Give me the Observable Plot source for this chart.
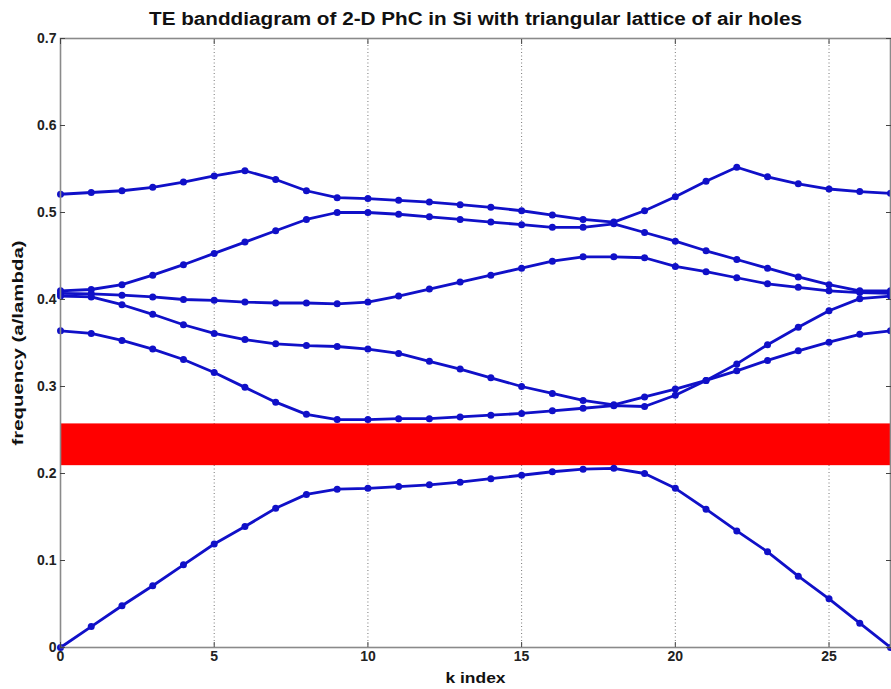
<!DOCTYPE html>
<html><head><meta charset="utf-8">
<script src="https://cdn.jsdelivr.net/npm/d3@7"></script>
<script src="https://cdn.jsdelivr.net/npm/@observablehq/plot@0.6"></script>
<style>body{margin:0;background:#fff;} svg{display:block}</style>
</head><body><div id="chart"></div>
<script>
const kIndex = [0,1,2,3,4,5,6,7,8,9,10,11,12,13,14,15,16,17,18,19,20,21,22,23,24,25,26,27];
const band1 = [0, 0.024, 0.048, 0.071, 0.095, 0.119, 0.139, 0.160, 0.176, 0.182, 0.183, 0.185, 0.187, 0.190, 0.194, 0.198, 0.202, 0.205, 0.206, 0.200, 0.183, 0.159, 0.134, 0.110, 0.082, 0.056, 0.028, 0];
const band2 = [0.364, 0.361, 0.353, 0.343, 0.331, 0.316, 0.299, 0.282, 0.268, 0.262, 0.262, 0.263, 0.263, 0.265, 0.267, 0.269, 0.272, 0.275, 0.278, 0.277, 0.290, 0.307, 0.318, 0.330, 0.341, 0.351, 0.360, 0.364];
const band3 = [0.404, 0.403, 0.394, 0.383, 0.371, 0.361, 0.354, 0.349, 0.347, 0.346, 0.343, 0.338, 0.329, 0.320, 0.310, 0.300, 0.292, 0.284, 0.279, 0.288, 0.297, 0.307, 0.326, 0.348, 0.368, 0.387, 0.401, 0.404];
const band4 = [0.407, 0.4065, 0.405, 0.403, 0.400, 0.399, 0.397, 0.396, 0.396, 0.395, 0.397, 0.404, 0.412, 0.420, 0.428, 0.436, 0.444, 0.449, 0.449, 0.448, 0.438, 0.432, 0.425, 0.418, 0.414, 0.410, 0.408, 0.407];
const band5 = [0.410, 0.4115, 0.417, 0.428, 0.440, 0.453, 0.466, 0.479, 0.492, 0.500, 0.500, 0.498, 0.495, 0.492, 0.489, 0.486, 0.483, 0.483, 0.487, 0.477, 0.467, 0.456, 0.446, 0.436, 0.426, 0.417, 0.410, 0.410];
const band6 = [0.521, 0.523, 0.525, 0.529, 0.535, 0.542, 0.548, 0.538, 0.525, 0.517, 0.516, 0.514, 0.512, 0.509, 0.506, 0.502, 0.497, 0.492, 0.489, 0.502, 0.518, 0.536, 0.552, 0.541, 0.533, 0.527, 0.524, 0.522];
const gapLow = 0.209;
const gapHigh = 0.257;
const xTicks = [0, 5, 10, 15, 20, 25];
const yTicks = [0, 0.1, 0.2, 0.3, 0.4, 0.5, 0.6, 0.7];
const titleText = "TE banddiagram of 2-D PhC in Si with triangular lattice of air holes";
const xLabel = "k index";
const yLabel = "frequency (a/lambda)";

const bands = [band1, band2, band3, band4, band5, band6];
const data = bands.flatMap((b, i) => b.map((f, j) => ({band: i + 1, k: kIndex[j], f})));
const gap = [{k1: kIndex[0], k2: kIndex[kIndex.length - 1], f1: gapLow, f2: gapHigh}];
const blue = "#1010c8";
const font = "'Liberation Sans', Arial, sans-serif";

const plot = Plot.plot({
  width: 891, height: 689,
  marginLeft: 60, marginRight: 1, marginTop: 38, marginBottom: 42,
  style: {fontFamily: font, fontSize: "14px", background: "#fff", color: "#222"},
  x: {domain: [0, 27]},
  y: {domain: [0, 0.7]},
  marks: [
    Plot.gridX(xTicks.filter(t => t > 0), {stroke: "#777", strokeOpacity: 1, strokeDasharray: "1,2.5"}),
    Plot.rect(gap, {x1: "k1", x2: "k2", y1: "f1", y2: "f2", fill: "#ff0000"}),
    Plot.line(data, {x: "k", y: "f", z: "band", stroke: blue, strokeWidth: 2.8}),
    Plot.dot(data, {x: "k", y: "f", r: 3.5, fill: blue}),
    Plot.frame({stroke: "#8a8a8a", strokeWidth: 1.6}),
    Plot.axisX(xTicks, {anchor: "bottom", tickSize: -5, tickPadding: 9, fontWeight: "bold", label: null, stroke: "#444"}),
    Plot.axisX(xTicks, {anchor: "top", tickSize: -5, tickFormat: () => "", label: null, stroke: "#444"}),
    Plot.axisY(yTicks, {anchor: "left", tickSize: -5, tickPadding: 9, fontWeight: "bold", label: null, stroke: "#444", tickFormat: d => d === 0 ? "0" : d3.format(".1f")(d)}),
    Plot.axisY(yTicks, {anchor: "right", tickSize: -5, tickFormat: () => "", label: null, stroke: "#444"}),
    Plot.text([titleText], {text: d => d, frameAnchor: "top", lineAnchor: "middle", textAnchor: "middle", dy: -19, fontSize: 18, fontWeight: "bold", fill: "#111", className: "ttl"}),
    Plot.text([xLabel], {text: d => d, frameAnchor: "bottom", lineAnchor: "middle", textAnchor: "middle", dy: 31, fontSize: 15, fontWeight: "bold", fill: "#111", className: "xlbl"}),
    Plot.text([yLabel], {text: d => d, frameAnchor: "left", lineAnchor: "middle", textAnchor: "middle", dx: -42, rotate: -90, fontSize: 14.5, fontWeight: "bold", fill: "#111", className: "ylbl"})
  ]
});
// stretch label texts to the reference's extents
const fit = (cls, len) => plot.querySelectorAll(`.${cls} text`).forEach(t => {
  t.setAttribute("textLength", len);
  t.setAttribute("lengthAdjust", "spacingAndGlyphs");
});
fit("ttl", 653);
fit("xlbl", 60);
fit("ylbl", 205);
document.getElementById("chart").appendChild(plot);
</script>
</body></html>
